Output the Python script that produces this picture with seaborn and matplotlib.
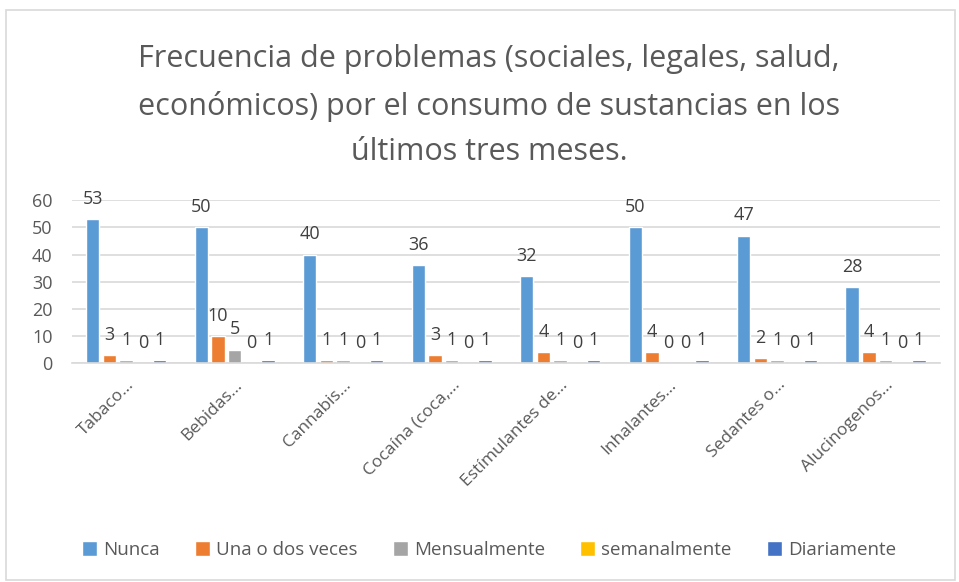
import pandas as pd
import matplotlib
matplotlib.use('Agg')
import matplotlib.pyplot as plt
import seaborn as sns
from matplotlib.patches import Rectangle

# Data
sustancias = ['Tabaco...', 'Bebidas...', 'Cannabis...', 'Cocaína (coca,...',
              'Estímulantes de...', 'Inhalantes...', 'Sedantes o...', 'Alucinogenos...']
frecuencias = ['Nunca', 'Una o dos veces', 'Mensualmente', 'semanalmente', 'Diariamente']
nunca = [53, 50, 40, 36, 32, 50, 47, 28]
una_dos = [3, 10, 1, 3, 4, 4, 2, 4]
mensual = [1, 5, 1, 1, 1, 0, 1, 1]
semanal = [0, 0, 0, 0, 0, 0, 0, 0]
diario = [1, 1, 1, 1, 1, 1, 1, 1]
colores = ['#5B9BD5', '#ED7D31', '#A5A5A5', '#FFC000', '#4472C4']

series = [nunca, una_dos, mensual, semanal, diario]
rows = []
for f, vals in zip(frecuencias, series):
    for s, v in zip(sustancias, vals):
        rows.append({'Sustancia': s, 'Frecuencia': f, 'Valor': v})
df = pd.DataFrame(rows)

sns.set_style('white')
plt.rcParams['font.family'] = ['Open Sans', 'DejaVu Sans']

fig = plt.figure(figsize=(9.59, 5.82), dpi=100)
ax = fig.add_axes([0.075, 0.376, 0.905, 0.280])

sns.barplot(data=df, x='Sustancia', y='Valor', hue='Frecuencia', palette=colores,
            saturation=1, width=0.77, gap=0.2, ax=ax, legend=True)

for cont in ax.containers:
    ax.bar_label(cont, fontsize=13, color='#404040', padding=8)

ax.set_ylim(0, 60)
ax.set_yticks(range(0, 61, 10))
ax.set_xlim(-0.5, 7.5)
ax.yaxis.grid(True, color='#D9D9D9', linewidth=1.2)
ax.set_axisbelow(True)
ax.set_xlabel('')
ax.set_ylabel('')
for sp in ['top', 'right', 'left']:
    ax.spines[sp].set_visible(False)
ax.spines['bottom'].set_color('#D9D9D9')
ax.spines['bottom'].set_linewidth(1.2)
ax.tick_params(axis='y', labelsize=13, labelcolor='#595959', length=0, pad=14)
ax.tick_params(axis='x', labelsize=12.5, labelcolor='#595959', length=0, pad=10)
plt.setp(ax.get_xticklabels(), rotation=45, ha='right', rotation_mode='anchor')

fig.text(0.51, 0.818, 'Frecuencia de problemas (sociales, legales, salud,\n'
         'económicos) por el consumo de sustancias en los\núltimos tres meses.',
         ha='center', va='center', fontsize=22, color='#595959', linespacing=1.68)

handles, labels = ax.get_legend_handles_labels()
ax.legend_.remove()
fig.legend(handles, labels, loc='center', bbox_to_anchor=(0.51, 0.055), ncol=5,
           frameon=False, fontsize=13.5, handlelength=0.8, handleheight=0.8,
           handletextpad=0.3, columnspacing=1.9, labelcolor='#595959')

fig.patches.append(Rectangle((0.006, 0.004), 0.99, 0.978, transform=fig.transFigure,
                             fill=False, edgecolor='#D9D9D9', linewidth=1.2))

fig.savefig('out.png', dpi=100)
